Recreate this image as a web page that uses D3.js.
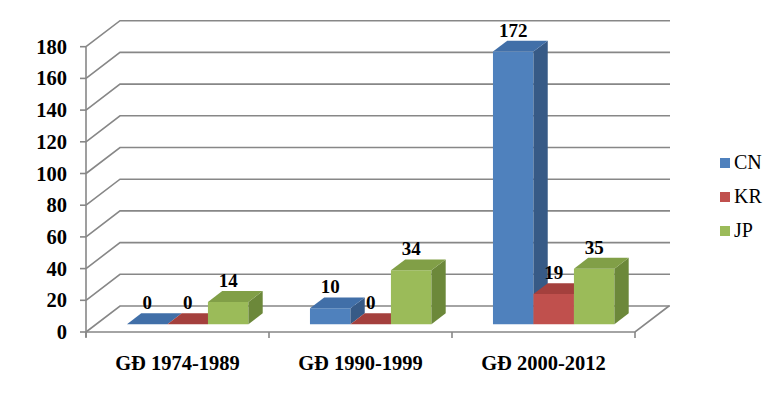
<!DOCTYPE html>
<html>
<head>
<meta charset="utf-8">
<script src="https://cdn.jsdelivr.net/npm/d3@7/dist/d3.min.js"></script>
<style>
    body { margin: 0; background: #fff; }
</style>
</head>
<body>
<div id="chart"></div>
<script>
var categories = ["GĐ 1974-1989", "GĐ 1990-1999", "GĐ 2000-2012"];
var series = ["CN", "KR", "JP"];
var cnValues = [0, 10, 172];
var krValues = [0, 0, 19];
var jpValues = [14, 34, 35];
var yTicks = [0, 20, 40, 60, 80, 100, 120, 140, 160, 180];

var seriesValues = { CN: cnValues, KR: krValues, JP: jpValues };
var colors = {
    CN: { front: "#4f81bd", top: "#416fa8", side: "#375a86" },
    KR: { front: "#c0504d", top: "#a4403d", side: "#8a3734" },
    JP: { front: "#9bbb59", top: "#819f47", side: "#6c883a" }
};

var width = 782, height = 396;
var fontFamily = "Liberation Serif";

// depth of the 3d box (back wall offset)
var depth = { dx: 34, dy: -26 };
var barDepthStart = 0.3, barDepthEnd = 0.72;

var svg = d3.select('#chart')
    .append('svg')
    .attr('width', width)
    .attr('height', height);

var x = d3.scaleBand()
    .domain(categories)
    .range([86, 635])
    .padding(0);

var xInner = d3.scaleBand()
    .domain(series)
    .range([0, x.bandwidth()])
    .paddingInner(0)
    .paddingOuter(0.76);

var y = d3.scaleLinear()
    .domain([0, 180])
    .range([332, 46.7]);

var gridColor = '#878787';

/* back wall + side wall grid */
var grid = svg.append('g');
yTicks.forEach(function(t) {
    var yy = y(t);
    grid.append('path')
        .attr('d', 'M86,' + yy + 'L' + (86 + depth.dx) + ',' + (yy + depth.dy) + 'L670,' + (yy + depth.dy))
        .attr('fill', 'none')
        .attr('stroke', gridColor)
        .attr('stroke-width', 1.6);
});

// floor
grid.append('path')
    .attr('d', 'M86,' + y(0) + 'L635,' + y(0) + 'L' + (635 + depth.dx) + ',' + (y(0) + depth.dy))
    .attr('fill', 'none')
    .attr('stroke', gridColor)
    .attr('stroke-width', 1.6);

// y axis line + ticks
grid.append('line')
    .attr('x1', 86).attr('x2', 86)
    .attr('y1', y(0) + 5).attr('y2', y(180))
    .attr('stroke', gridColor)
    .attr('stroke-width', 1.6);

svg.append('g')
    .selectAll('line')
    .data(yTicks)
    .enter().append('line')
    .attr('x1', 80).attr('x2', 86)
    .attr('y1', function(d) { return y(d); })
    .attr('y2', function(d) { return y(d); })
    .attr('stroke', gridColor)
    .attr('stroke-width', 1.6);

svg.append('g')
    .selectAll('text')
    .data(yTicks)
    .enter().append('text')
    .attr('x', 67)
    .attr('y', function(d) { return y(d) + 7; })
    .attr('text-anchor', 'end')
    .attr('font-family', fontFamily)
    .attr('font-size', 20.5)
    .attr('font-weight', 'bold')
    .text(function(d) { return d; });

// category ticks
var boundaries = categories.map(function(c) { return x(c); }).concat([x(categories[2]) + x.bandwidth()]);
svg.append('g')
    .selectAll('line')
    .data(boundaries)
    .enter().append('line')
    .attr('x1', function(d) { return d; })
    .attr('x2', function(d) { return d; })
    .attr('y1', y(0))
    .attr('y2', y(0) + 6)
    .attr('stroke', gridColor)
    .attr('stroke-width', 1.6);

svg.append('g')
    .selectAll('text')
    .data(categories)
    .enter().append('text')
    .attr('x', function(d) { return x(d) + x.bandwidth() / 2; })
    .attr('y', 370)
    .attr('text-anchor', 'middle')
    .attr('font-family', fontFamily)
    .attr('font-size', 20.5)
    .attr('font-weight', 'bold')
    .text(function(d) { return d; });

/* bars */
var ox = depth.dx * barDepthStart, oy = depth.dy * barDepthStart;
var bdx = depth.dx * (barDepthEnd - barDepthStart), bdy = depth.dy * (barDepthEnd - barDepthStart);

var bars = svg.append('g');
categories.forEach(function(c, i) {
    series.forEach(function(s) {
        var v = seriesValues[s][i];
        var x0 = x(c) + xInner(s) + ox,
            x1 = x0 + xInner.bandwidth(),
            yb = y(0) + oy,
            yt = y(v) + oy;
        var g = bars.append('g');
        g.append('path')
            .attr('d', 'M' + x0 + ',' + yb + 'L' + x1 + ',' + yb + 'L' + x1 + ',' + yt + 'L' + x0 + ',' + yt + 'Z')
            .attr('fill', colors[s].front);
        g.append('path')
            .attr('d', 'M' + x1 + ',' + yb + 'L' + (x1 + bdx) + ',' + (yb + bdy) + 'L' + (x1 + bdx) + ',' + (yt + bdy) + 'L' + x1 + ',' + yt + 'Z')
            .attr('fill', colors[s].side);
        g.append('path')
            .attr('d', 'M' + x0 + ',' + yt + 'L' + x1 + ',' + yt + 'L' + (x1 + bdx) + ',' + (yt + bdy) + 'L' + (x0 + bdx) + ',' + (yt + bdy) + 'Z')
            .attr('fill', colors[s].top);
    });
});

// data labels (drawn after all bars)
categories.forEach(function(c, i) {
    series.forEach(function(s) {
        var v = seriesValues[s][i];
        var xc = x(c) + xInner(s) + ox + xInner.bandwidth() / 2;
        var yt = y(v) + oy + bdy;
        svg.append('text')
            .attr('x', xc)
            .attr('y', yt - 4)
            .attr('text-anchor', 'middle')
            .attr('font-family', fontFamily)
            .attr('font-size', 19)
            .attr('font-weight', 'bold')
            .text(v);
    });
});

/* legend */
var legend = svg.append('g')
    .selectAll('g')
    .data(series)
    .enter().append('g')
    .attr('transform', function(d, i) { return 'translate(720,' + (163 + i * 34) + ')'; });

legend.append('rect')
    .attr('x', 0).attr('y', -5)
    .attr('width', 10).attr('height', 10)
    .attr('fill', function(d) { return colors[d].front; });

legend.append('text')
    .attr('x', 14)
    .attr('y', 6)
    .attr('font-family', fontFamily)
    .attr('font-size', 20)
    .text(function(d) { return d; });
</script>
</body>
</html>
